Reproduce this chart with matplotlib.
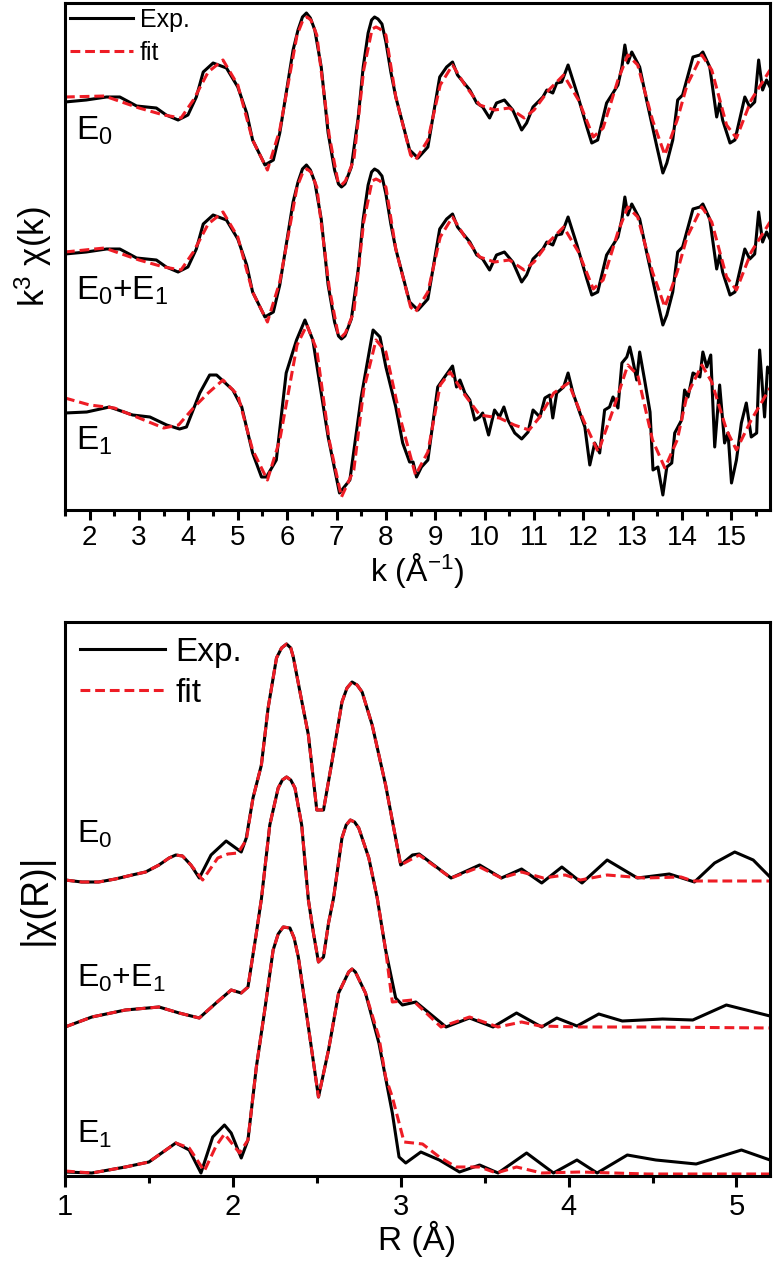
import matplotlib
matplotlib.use("Agg")
import matplotlib.pyplot as plt
from matplotlib.ticker import MultipleLocator

plt.rcParams['font.family'] = ['Liberation Sans', 'DejaVu Sans']
plt.rcParams['mathtext.fontset'] = 'custom'
plt.rcParams['mathtext.rm'] = 'Liberation Sans'
plt.rcParams['mathtext.it'] = 'Liberation Sans'
plt.rcParams['mathtext.default'] = 'regular'

# ---------------- k-space data (arbitrary units) ----------------
k_e0 = [1.5, 1.93, 2.34, 2.61, 2.95, 3.15, 3.35, 3.55, 3.79, 3.99, 4.16, 4.3, 4.5, 4.77, 5.0, 5.18,
        5.3, 5.55, 5.72, 5.85, 5.99, 6.12, 6.22, 6.31, 6.39, 6.47, 6.56, 6.69, 6.83, 6.96, 7.04,
        7.1, 7.17, 7.3, 7.44, 7.54, 7.64, 7.71, 7.77, 7.84, 7.92, 8.0, 8.1, 8.2, 8.48, 8.65, 8.85,
        9.09, 9.23, 9.35, 9.45, 9.7, 9.84, 9.96,
        10.1, 10.24, 10.4, 10.57, 10.75, 10.85, 10.98, 11.18, 11.26, 11.38, 11.46, 11.56, 11.69,
        11.87, 12.07, 12.17, 12.29, 12.47, 12.6, 12.7, 12.78, 12.84, 12.9, 12.98, 13.14, 13.28,
        13.49, 13.61, 13.69, 13.81, 13.91, 14.01, 14.22, 14.36, 14.42, 14.56, 14.7, 14.76, 14.82,
        14.97, 15.07, 15.27, 15.37, 15.47, 15.55, 15.63, 15.71, 15.78]
exp_e0 = [0.0, 0.2, 0.5, 0.5, -0.4, -0.5, -0.6, -1.3, -1.8, -1.3, 0.5, 3.0, 3.9, 3.4, 1.5, -1.1,
          -3.8, -6.3, -5.8, -3.1, 1.2, 5.2, 7.2, 8.5, 8.9, 8.4, 7.2, 3.5, -3.1, -6.8, -8.2,
          -8.5, -8.2, -6.5, -1.5, 3.5, 6.9, 8.2, 8.5, 8.3, 7.8, 6.0, 3.0, 0.5, -4.8, -5.6, -4.5,
          2.5, 3.5, 4.0, 2.7, 1.2, -0.1, -0.5,
          -1.6, -0.1, 0.2, -0.8, -2.8, -2.1, -0.5, 0.5, 1.2, 0.9, 1.9, 2.0, 3.7,
          0.9, -2.5, -4.1, -3.8, -0.1, 0.9, 1.7, 3.5, 5.7, 3.9, 5.0, 3.5, 0.2,
          -4.5, -7.1, -6.1, -3.8, 0.2, 0.7, 4.5, 4.7, 5.0, 3.5, -1.5, -0.1, -1.8,
          -4.1, -3.8, 0.5, -0.5, 0.0, 4.2, 1.2, 2.2, 1.5]

k_fit = [1.5, 2.3, 3.0, 3.5, 3.85, 4.1, 4.4, 4.7, 5.0, 5.3, 5.6, 5.85, 6.2, 6.32, 6.4, 6.48, 6.6,
         6.85, 7.03, 7.1, 7.18, 7.35, 7.55, 7.72, 7.8, 7.88, 8.0, 8.2, 8.5, 8.6, 8.85, 9.1, 9.35,
         9.6, 9.9, 10.2, 10.5, 10.8, 11.0,
         11.3, 11.6, 11.9, 12.2, 12.4, 12.7, 12.9, 13.1, 13.4, 13.65, 13.9, 14.1, 14.4, 14.6,
         14.9, 15.1, 15.4, 15.78]
fit_e0 = [0.5, 0.6, -0.6, -1.3, -1.6, 0.2, 3.0, 4.2, 1.7, -3.8, -6.8, -2.8, 6.7, 8.2, 8.5, 8.2, 6.7,
          -3.3, -8.0, -8.3, -7.9, -5.8, 3.2, 7.3, 7.5, 7.3, 6.7, 0.5, -5.3, -5.8, -3.8, 1.7, 3.7,
          1.7, -0.3, -0.8, -0.6, -1.6, -0.8,
          1.2, 2.7, 0.2, -3.5, -2.6, 2.2, 4.7, 3.7, -1.8, -5.3, -1.8, 1.7, 4.7, 3.2,
          -2.3, -3.6, 0.2, 3.2]

k_e01 = list(k_e0)
exp_e01 = list(exp_e0)
fit_e01 = [0.2, 0.6, -0.6, -1.3, -1.6, 0.2, 3.0, 4.2, 1.7, -3.8, -6.8, -2.8, 6.7, 8.2, 8.5, 8.2, 6.7,
           -3.3, -8.0, -8.3, -7.9, -5.8, 3.2, 7.3, 7.5, 7.3, 6.7, 0.5, -5.3, -5.8, -3.8, 1.7, 3.7,
           1.7, -0.3, -0.8, -0.6, -1.6, -0.8,
           1.2, 2.7, 0.2, -3.5, -2.6, 2.2, 4.7, 3.7, -1.8, -5.3, -1.8, 1.7, 4.7, 3.2,
           -2.3, -3.6, 0.2, 3.2]

k_e1 = [1.5, 1.94, 2.4, 2.87, 3.22, 3.56, 3.82, 3.96, 4.23, 4.43, 4.57, 4.9, 5.08, 5.3, 5.48, 5.58,
        5.78, 5.98, 6.19, 6.36, 6.52, 6.83, 7.06, 7.27, 7.5, 7.74, 7.88, 8.0, 8.2, 8.34, 8.48, 8.55,
        8.62, 8.72, 8.85, 9.05, 9.19, 9.35, 9.43, 9.5, 9.6, 9.7, 9.8, 9.9, 9.96, 10.08, 10.2, 10.3,
        10.39, 10.47, 10.61, 10.75, 10.88, 10.98, 11.12, 11.22, 11.32, 11.38, 11.46, 11.6, 11.69,
        11.79, 11.93, 12.03, 12.13, 12.23, 12.33, 12.43, 12.53, 12.6, 12.7, 12.78, 12.88, 12.94,
        13.0, 13.08, 13.14, 13.24, 13.35, 13.41, 13.51, 13.61, 13.69, 13.79, 13.85, 13.99, 14.05,
        14.12, 14.22, 14.36, 14.42, 14.5, 14.58, 14.66, 14.76, 14.86, 14.93, 15.0, 15.1, 15.2,
        15.3, 15.4, 15.51, 15.57, 15.67, 15.73, 15.78]
exp_e1 = [0.0, 0.1, 0.6, -0.2, -0.4, -1.2, -1.6, -1.4, 2.0, 3.8, 3.8, 2.3, 0.6, -4.0, -6.4, -6.4,
          -4.7, 4.0, 7.3, 9.3, 7.3, -2.4, -8.0, -6.7, 1.6, 8.3, 7.6, 4.6, 0.6, -3.0, -4.9, -4.9,
          -6.4, -5.4, -4.7, 2.6, 3.6, 4.7, 2.6, 3.3, 2.0, 1.3, -0.7, -0.4, 0.0, -2.2, 0.3, -0.4,
          0.6, -0.7, -2.0, -2.6, -1.9, 0.3, -0.4, 1.5, 1.8, -0.5, 2.0, 2.6, 4.0,
          2.0, 0.0, -1.4, -5.2, -3.0, -4.0, 0.3, 0.6, 1.6, 0.5, 5.0, 5.6, 6.6,
          5.3, 3.3, 6.1, 3.3, 0.1, -5.7, -5.4, -8.2, -5.4, -5.0, -2.0, -0.7, 2.3,
          1.6, 4.0, 3.6, 6.1, 4.6, 5.8, -3.4, 2.8, -3.0, -2.0, -7.0, -4.7, -1.0,
          1.0, -2.4, -2.0, 6.3, -0.4, 4.6, 4.0]

k_fit_e1 = [1.5, 2.0, 2.5, 3.0, 3.5, 3.8, 4.1, 4.4, 4.7, 5.0, 5.3, 5.6, 5.85, 6.2, 6.4, 6.6, 6.85,
            7.1, 7.35, 7.55, 7.8, 8.0, 8.3, 8.6, 8.85, 9.1, 9.3, 9.6, 9.9, 10.3, 10.6, 10.9, 11.1,
            11.4, 11.7, 12.0, 12.3, 12.6, 12.9, 13.1, 13.4, 13.65, 13.9, 14.1, 14.4, 14.6, 14.9,
            15.1, 15.4, 15.78]
fit_e1 = [1.5, 0.8, 0.5, -0.5, -1.5, -1.2, 0.5, 2.0, 3.3, 1.8, -3.7, -6.7, -2.7, 6.8, 8.8, 6.3, -2.7,
          -8.4, -5.7, 2.3, 7.3, 6.1, -0.7, -6.2, -3.9, 2.8, 4.1, 1.8, -0.2, -0.5, -1.2, -1.7, -0.5,
          2.0, 3.0, -0.7, -3.9, 0.3, 4.8, 3.8, -2.7, -5.5, -2.7, 1.8, 4.8, 3.1, -1.7,
          -3.7, -0.7, 2.5]

# ---------------- R-space data (arbitrary units) ----------------
r_e0 = [1.0, 1.1, 1.2, 1.3, 1.4, 1.48, 1.56, 1.62, 1.66, 1.70, 1.75, 1.8, 1.87, 1.96, 2.05, 2.08,
        2.12, 2.17, 2.21, 2.26, 2.29, 2.32, 2.345, 2.36, 2.40, 2.45, 2.50, 2.54, 2.59, 2.65, 2.68,
        2.71, 2.74, 2.77, 2.83, 2.91, 3.0, 3.07, 3.11, 3.3, 3.47, 3.6, 3.72, 3.84, 3.96, 4.08,
        4.23, 4.41, 4.6, 4.75, 4.87, 4.99, 5.1, 5.2]
mag_e0 = [0.05, 0.03, 0.03, 0.06, 0.10, 0.13, 0.20, 0.27, 0.30, 0.29, 0.20, 0.07, 0.30, 0.44, 0.33,
          0.47, 0.87, 1.20, 1.77, 2.27, 2.37, 2.41, 2.37, 2.28, 1.93, 1.50, 0.75, 0.75, 1.23, 1.83,
          1.97, 2.03, 2.00, 1.93, 1.60, 1.00, 0.20, 0.30, 0.31, 0.07, 0.20, 0.07, 0.16, 0.02, 0.18,
          0.02, 0.25, 0.07, 0.11, 0.03, 0.22, 0.33, 0.25, 0.08]
r_fit_e0 = [1.0, 1.1, 1.2, 1.3, 1.4, 1.48, 1.56, 1.62, 1.66, 1.70, 1.75, 1.82, 1.91, 1.97, 2.03,
            2.08, 2.12, 2.17, 2.21, 2.26, 2.29, 2.32, 2.345, 2.36, 2.40, 2.45, 2.50, 2.54, 2.59,
            2.65, 2.68, 2.71, 2.74, 2.77, 2.83, 2.91, 3.0, 3.11, 3.3, 3.47, 3.6, 3.72, 3.85, 3.98,
            4.07, 4.23, 4.45, 4.67, 4.74, 5.2]
fitmag_e0 = [0.05, 0.03, 0.03, 0.06, 0.10, 0.13, 0.20, 0.27, 0.30, 0.29, 0.20, 0.05, 0.27, 0.31,
             0.32, 0.45, 0.87, 1.20, 1.77, 2.27, 2.37, 2.41, 2.37, 2.28, 1.93, 1.50, 0.75, 0.75,
             1.23, 1.83, 1.97, 2.03, 2.00, 1.93, 1.60, 1.00, 0.20, 0.30, 0.07, 0.18, 0.07, 0.13,
             0.07, 0.10, 0.05, 0.10, 0.07, 0.08, 0.04, 0.04]

r_e01 = [1.0, 1.16, 1.36, 1.56, 1.68, 1.8, 1.9, 1.99, 2.05, 2.09, 2.14, 2.17, 2.22, 2.27, 2.295,
         2.32, 2.345, 2.37, 2.41, 2.45, 2.48, 2.51, 2.54, 2.57, 2.6, 2.65, 2.675, 2.70, 2.725,
         2.75, 2.81, 2.86, 2.91, 2.97, 3.01, 3.09, 3.27, 3.41, 3.55, 3.69, 3.84, 3.93, 4.05, 4.18,
         4.32, 4.56, 4.74, 4.94, 5.2]
mag_e01 = [0.04, 0.14, 0.21, 0.24, 0.18, 0.13, 0.28, 0.41, 0.38, 0.44, 0.98, 1.32, 2.06, 2.43, 2.51,
           2.54, 2.51, 2.43, 2.06, 1.31, 0.98, 0.69, 0.74, 1.08, 1.33, 1.93, 2.06, 2.11, 2.09,
           2.03, 1.73, 1.33, 0.81, 0.33, 0.26, 0.29, 0.04, 0.13, 0.04, 0.18, 0.04, 0.13, 0.05,
           0.17, 0.10, 0.12, 0.11, 0.26, 0.15]
r_fit_e01 = [1.0, 1.16, 1.36, 1.56, 1.68, 1.8, 1.9, 1.99, 2.05, 2.09, 2.14, 2.17, 2.22, 2.27,
             2.295, 2.32, 2.345, 2.37, 2.41, 2.45, 2.48, 2.51, 2.54, 2.57, 2.6, 2.65, 2.675, 2.70,
             2.725, 2.75, 2.81, 2.86, 2.91, 2.95, 3.07, 3.24, 3.41, 3.58, 3.72, 3.83, 4.07, 4.47,
             5.2]
fitmag_e01 = [0.04, 0.14, 0.21, 0.24, 0.18, 0.13, 0.28, 0.41, 0.38, 0.44, 0.98, 1.32, 2.06, 2.43,
              2.51, 2.54, 2.51, 2.43, 2.06, 1.31, 0.98, 0.69, 0.74, 1.08, 1.33, 1.93, 2.06, 2.11,
              2.09, 2.03, 1.73, 1.33, 0.81, 0.29, 0.31, 0.04, 0.14, 0.04, 0.09, 0.05, 0.04, 0.04,
              0.03]

r_e1 = [1.0, 1.16, 1.36, 1.5, 1.66, 1.74, 1.81, 1.88, 1.95, 1.99, 2.05, 2.09, 2.14, 2.19, 2.24,
        2.27, 2.30, 2.34, 2.365, 2.39, 2.45, 2.51, 2.57, 2.63, 2.69, 2.71, 2.73, 2.79, 2.87, 2.95,
        2.99, 3.03, 3.12, 3.23, 3.35, 3.47, 3.58, 3.75, 3.91, 4.05, 4.17, 4.35, 4.52, 4.76, 5.03,
        5.2]
mag_e1 = [0.04, 0.03, 0.09, 0.14, 0.33, 0.26, 0.03, 0.39, 0.51, 0.43, 0.18, 0.36, 1.09, 1.66, 2.26,
          2.42, 2.49, 2.48, 2.38, 2.19, 1.49, 0.79, 1.26, 1.83, 2.04, 2.07, 2.04, 1.83, 1.33, 0.63,
          0.19, 0.13, 0.24, 0.16, 0.04, 0.11, 0.03, 0.23, 0.03, 0.16, 0.03, 0.21, 0.16, 0.12, 0.26,
          0.16]
r_fit_e1 = [1.0, 1.16, 1.36, 1.5, 1.66, 1.74, 1.83, 1.9, 1.95, 2.04, 2.09, 2.14, 2.19, 2.24, 2.27,
            2.30, 2.34, 2.365, 2.39, 2.45, 2.51, 2.57, 2.63, 2.69, 2.71, 2.73, 2.79, 2.87, 2.91,
            2.95, 3.02, 3.13, 3.23, 3.33, 3.47, 3.57, 3.69, 3.84, 4.07, 4.47, 5.2]
fitmag_e1 = [0.05, 0.03, 0.09, 0.14, 0.33, 0.28, 0.05, 0.30, 0.42, 0.23, 0.36, 1.09, 1.66, 2.26,
             2.42, 2.49, 2.48, 2.38, 2.19, 1.49, 0.79, 1.26, 1.83, 2.04, 2.07, 2.04, 1.83, 1.39,
             0.99, 0.79, 0.34, 0.32, 0.19, 0.09, 0.09, 0.03, 0.09, 0.03, 0.04, 0.02, 0.02]

labels = [('E$_0$', 'E0'), ('E$_0$+E$_1$', 'E01'), ('E$_1$', 'E1')]
k_offsets = {'E0': 31.1, 'E01': 15.9, 'E1': 0.0}
r_offsets = {'E0': 2.91, 'E01': 1.45, 'E1': 0.0}

BLACK = 'black'
RED = '#ee1c25'
LW = 2.2
DASH = (3.2, 1.6)

fig = plt.figure(figsize=(7.74, 12.61), dpi=100)
ax1 = fig.add_axes([65 / 774, 1 - 510 / 1261, 705 / 774, 507 / 1261])
ax2 = fig.add_axes([65 / 774, 1 - 1176 / 1261, 705 / 774, 554 / 1261])

# ---------- top panel ----------
k_sets = {'E0': (k_e0, exp_e0, k_fit, fit_e0),
          'E01': (k_e01, exp_e01, k_fit, fit_e01),
          'E1': (k_e1, exp_e1, k_fit_e1, fit_e1)}
for i, (name, key) in enumerate(labels):
    kx, ye, kf, yf = k_sets[key]
    off = k_offsets[key]
    ax1.plot(kx, [v + off for v in ye], color=BLACK, lw=LW, label='Exp.' if i == 0 else None,
             solid_joinstyle='round')
    ax1.plot(kf, [v + off for v in yf], color=RED, lw=LW, ls=(0, DASH),
             label='fit' if i == 0 else None)

ax1.set_xlim(1.5, 15.78)
ax1.set_ylim(-9.7, 41.0)
ax1.xaxis.set_major_locator(MultipleLocator(1))
ax1.xaxis.set_minor_locator(MultipleLocator(0.5))
ax1.set_yticks([])
ax1.tick_params(axis='x', which='major', direction='out', length=7, width=2.2, labelsize=20, pad=4)
ax1.tick_params(axis='x', which='minor', direction='out', length=4, width=2.2)
ax1.tick_params(top=False, right=False)
ax1.set_xlabel('k (Å$^{-1}$)', fontsize=23, labelpad=0)
ax1.set_ylabel('k$^3$ χ(k)', fontsize=25, labelpad=8)
for s in ax1.spines.values():
    s.set_linewidth(2.2)
ax1.legend(loc='upper left', frameon=False, fontsize=18, handlelength=2.5, handletextpad=0.3,
           labelspacing=0.35, borderaxespad=0.15, borderpad=0.05)

top_text_y = {'E0': 31.1 - 3.8, 'E01': 15.9 - 4.6, 'E1': -3.7}
for name, key in labels:
    ax1.text(1.72, top_text_y[key], name, fontsize=24, va='baseline', ha='left')

# ---------- bottom panel ----------
r_sets = {'E0': (r_e0, mag_e0, r_fit_e0, fitmag_e0),
          'E01': (r_e01, mag_e01, r_fit_e01, fitmag_e01),
          'E1': (r_e1, mag_e1, r_fit_e1, fitmag_e1)}
for i, (name, key) in enumerate(labels):
    rx, ye, rf, yf = r_sets[key]
    off = r_offsets[key]
    ax2.plot(rx, [v + off for v in ye], color=BLACK, lw=LW, label='Exp.' if i == 0 else None,
             solid_joinstyle='round')
    ax2.plot(rf, [v + off for v in yf], color=RED, lw=LW, ls=(0, DASH),
             label='fit' if i == 0 else None)

ax2.set_xlim(1.0, 5.2)
ax2.set_ylim(0, 5.54)
ax2.xaxis.set_major_locator(MultipleLocator(1))
ax2.xaxis.set_minor_locator(MultipleLocator(0.5))
ax2.set_yticks([])
ax2.tick_params(axis='x', which='major', direction='out', length=8, width=2.2, labelsize=21, pad=4)
ax2.tick_params(axis='x', which='minor', direction='out', length=5, width=2.2)
ax2.set_xlabel('R (Å)', fontsize=24, labelpad=0)
ax2.set_ylabel('|χ(R)|', fontsize=27, labelpad=8)
for s in ax2.spines.values():
    s.set_linewidth(2.2)
ax2.legend(loc='upper left', frameon=False, fontsize=24, handlelength=2.55, handletextpad=0.3,
           labelspacing=0.3, borderaxespad=0.3, borderpad=0.15)

bot_text_y = {'E0': 3.33, 'E01': 1.89, 'E1': 0.33}
for name, key in labels:
    ax2.text(1.07, bot_text_y[key], name, fontsize=23, va='baseline', ha='left')

fig.savefig('out.png', dpi=100)
